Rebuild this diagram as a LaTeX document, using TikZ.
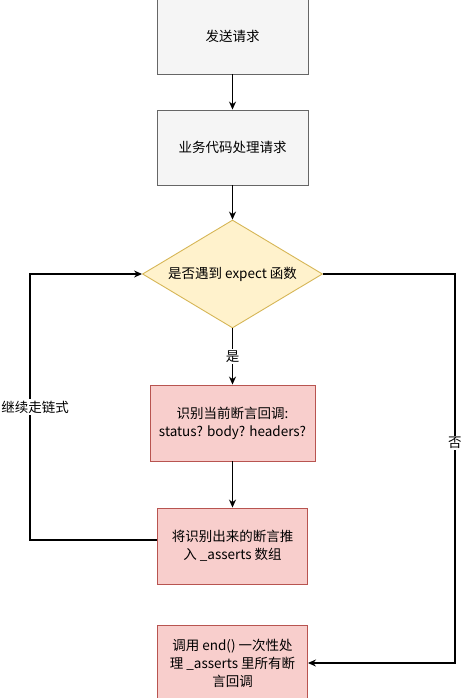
\documentclass[tikz,border=0pt]{standalone}
\usepackage{fontspec}
\setmainfont{Noto Sans CJK SC}
\usepackage{tikz}
\usetikzlibrary{arrows.meta,positioning,shapes.geometric}
\usepackage{xcolor}
\definecolor{greyfill}{HTML}{F5F5F5}
\definecolor{greyline}{HTML}{666666}
\definecolor{yelfill}{HTML}{FFF2CC}
\definecolor{yelline}{HTML}{D6B656}
\definecolor{redfill}{HTML}{F8CECC}
\definecolor{redline}{HTML}{B85450}

\begin{document}
\begin{tikzpicture}[x=1pt, y=1pt,
      font=\fontsize{13.5}{18}\selectfont,
      blk/.style={draw, line width=0.9pt, minimum width=151pt, minimum height=75pt, align=center, inner sep=2pt},
      grey/.style={blk, fill=greyfill, draw=greyline},
      pink/.style={blk, fill=redfill, draw=redline},
      arr/.style={-{Stealth[length=8pt,width=7pt]}, line width=1.2pt},
      lbl/.style={fill=white, inner sep=1.5pt}]
    \useasboundingbox (0,0) rectangle (462,-698);
    \node[grey] (send) at (232.5,-36.5) {发送请求};
    \node[grey] (biz) at (232.5,-147.5) {业务代码处理请求};
    \node[diamond, draw=yelline, fill=yelfill, line width=0.9pt, minimum width=180pt, minimum height=108pt, aspect=1.67, inner sep=0pt] (cond) at (232.5,-274) {是否遇到 expect 函数};
    \node[pink, minimum width=165pt, minimum height=76pt] (ident) at (232.5,-423) {识别当前断言回调:\\status? body? headers?};
    \node[pink, minimum width=150pt, minimum height=76pt] (push) at (232.5,-546) {将识别出来的断言推\\入 \_asserts 数组};
    \node[pink, minimum width=150pt, minimum height=76pt] (done) at (232.5,-663) {调用 end() 一次性处\\理 \_asserts 里所有断\\言回调};
    \draw[arr] (send) -- (biz);
    \draw[arr] (biz) -- (cond);
    \draw[arr] (cond) -- node[lbl] {是} (ident);
    \draw[arr] (ident) -- (push);
    \draw[arr] ([yshift=6]push.west) -- ++(-127,0) |- node[lbl, pos=0.25, xshift=5] {继续走链式} (cond.west);
    \draw[arr] (cond.east) -- ++(132,0) |- node[lbl, pos=0.217] {否} (done.east);
  \end{tikzpicture}
\end{document}
